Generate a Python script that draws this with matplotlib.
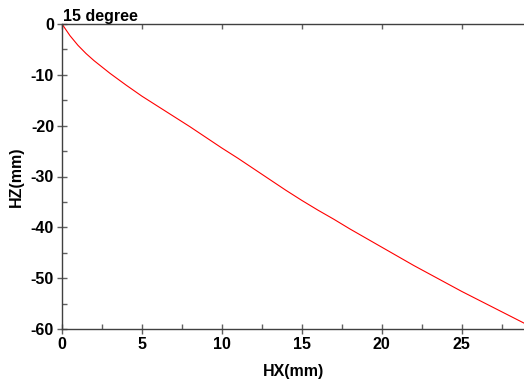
import matplotlib
matplotlib.use("Agg")
import matplotlib.pyplot as plt
from matplotlib.ticker import MultipleLocator, FixedLocator

plt.rcParams['font.family'] = ['Liberation Sans', 'DejaVu Sans']

hx = [0, 0.5, 1, 1.5, 2, 3, 4, 5, 6, 7, 8, 9, 10, 11, 12, 13, 14, 15, 16,
      17, 18, 19, 20, 21, 22, 23, 24, 25, 26, 27, 28, 29]
hz = [0, -2.3, -4.2, -5.8, -7.2, -9.7, -12.0, -14.2, -16.2, -18.2, -20.2,
      -22.3, -24.4, -26.4, -28.5, -30.6, -32.7, -34.7, -36.6, -38.4, -40.3,
      -42.1, -43.9, -45.7, -47.5, -49.2, -50.9, -52.6, -54.2, -55.8, -57.4,
      -59.0]

xticks = [0, 5, 10, 15, 20, 25]
yticks = [0, -10, -20, -30, -40, -50, -60]

fig = plt.figure(figsize=(5.24, 3.81), dpi=100)
ax = fig.add_axes([62/524, 1-329/381, 1-62/524, (329-24)/381])
ax.plot(hx, hz, color='#ff0000', linewidth=0.8)

ax.set_xlim(0, 28.9)
ax.set_ylim(-60, 0)

ax.xaxis.set_major_locator(FixedLocator(xticks))
ax.yaxis.set_major_locator(FixedLocator(yticks))
ax.xaxis.set_minor_locator(MultipleLocator(2.5))
ax.yaxis.set_minor_locator(MultipleLocator(5))
ax.set_xticklabels([str(v) for v in xticks])
ax.set_yticklabels([str(v) for v in yticks])

spc = '#404040'
for s in ['left', 'bottom', 'top']:
    ax.spines[s].set_color(spc)
    ax.spines[s].set_linewidth(1.0)
ax.spines['right'].set_visible(False)

ax.tick_params(axis='both', which='major', direction='inout', length=7.5,
               width=1.0, color='#606060', labelsize=11.5, pad=2)
ax.tick_params(axis='both', which='minor', direction='in', length=3.5,
               width=1.0, color='#606060')
ax.tick_params(axis='x', which='both', top=False)
for lab in ax.get_xticklabels() + ax.get_yticklabels():
    lab.set_fontweight('bold')

# top inward ticks at major x positions
sec = ax.secondary_xaxis('top')
sec.xaxis.set_major_locator(FixedLocator(xticks))
sec.tick_params(direction='in', length=3.5, width=1.0, color='#606060',
                labeltop=False)
sec.spines['top'].set_visible(False)
sec.xaxis.set_minor_locator(FixedLocator([]))

ax.set_xlabel('HX(mm)', fontsize=11.5, fontweight='bold', labelpad=9)
ax.set_ylabel('HZ(mm)', fontsize=11.5, fontweight='bold', labelpad=5)
ax.text(0.003, 1.0, '15 degree', transform=ax.transAxes, fontsize=11.5,
        fontweight='bold', ha='left', va='bottom')

fig.savefig('out.png', dpi=100)
